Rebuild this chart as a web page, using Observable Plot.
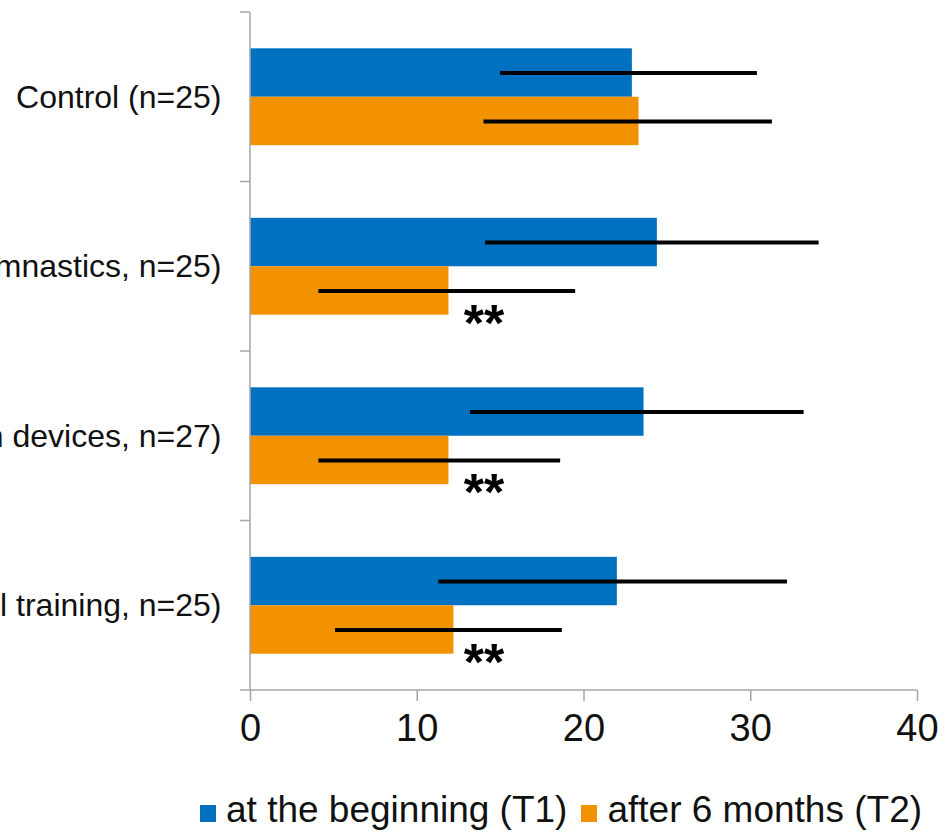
<!DOCTYPE html>
<html>
<head>
<meta charset="utf-8">
<script src="https://cdn.jsdelivr.net/npm/d3@7"></script>
<script src="https://cdn.jsdelivr.net/npm/@observablehq/plot@0.6"></script>
<style>
  html, body { margin: 0; padding: 0; background: #fff; }
  body { font-family: "Liberation Sans", Arial, sans-serif; width: 952px; height: 833px; position: relative; overflow: hidden; }
  #chart svg { overflow: hidden; }
  #chart [aria-label^="fy-axis"], #chart [aria-label^="fy-axis"] text { font-size: 32px; fill: #111; }
  #chart [aria-label^="x-axis"] text, #chart [aria-label="x-axis tick label"] { font-size: 38px; fill: #111; }
  #chart .tick line, #chart [aria-label="x-axis tick"], #chart [aria-label="x-axis tick"] path { stroke: #a6a6a6; stroke-width: 1.5px; }
  #chart [aria-label="x-axis"] .domain { display: none; }
  #legend { position: absolute; left: 200px; top: 791px; font-size: 37px; line-height: 1; white-space: nowrap; color: #111; }
  #legend .item { display: inline-block; margin-right: 14px; }
  #legend .sw { display: inline-block; width: 16px; height: 17px; margin-right: 10px; vertical-align: baseline; }
</style>
</head>
<body>
<div id="chart"></div>
<div id="legend"></div>
<script>
// ---- Data ----
const categories = ["Control (n=25)", "mnastics, n=25)", "n devices, n=27)", "l training, n=25)"];
const series = ["T1", "T2"];
const seriesLabels = ["at the beginning (T1)", "after 6 months (T2)"];
const meanT1 = [22.9, 24.4, 23.6, 22.0];
const meanT2 = [23.3, 11.9, 11.9, 12.2];
const lowT1 = [15.0, 14.1, 13.2, 11.3];
const highT1 = [30.4, 34.1, 33.2, 32.2];
const lowT2 = [14.0, 4.1, 4.1, 5.1];
const highT2 = [31.3, 19.5, 18.6, 18.7];
const significantT2 = [false, true, true, true];
const sigLabel = "**";
const sigMarkX = 14;
const xDomain = [0, 40];
const xTicks = [0, 10, 20, 30, 40];
const colors = ["#0070c0", "#f39200"];

// ---- Table built from the arrays ----
const rows = [];
categories.forEach((g, i) => {
  rows.push({group: g, series: "T1", mean: meanT1[i], lo: lowT1[i], hi: highT1[i], sig: false});
  rows.push({group: g, series: "T2", mean: meanT2[i], lo: lowT2[i], hi: highT2[i], sig: significantT2[i]});
});

const W = 952, H = 770, mT = 12, mB = 80, mL = 250, mR = 35;

const chart = Plot.plot({
  width: W, height: H,
  marginLeft: mL, marginRight: mR, marginTop: mT, marginBottom: mB,
  style: {fontFamily: '"Liberation Sans", Arial, sans-serif', fontSize: "37px", color: "#111", background: "transparent", overflow: "hidden"},
  facet: {data: rows, y: "group"},
  fy: {domain: categories, padding: 0, round: false, axis: "left", tickSize: 0, tickPadding: 29, label: null},
  y: {domain: series, paddingInner: 0, paddingOuter: 0.75, round: false, axis: null},
  x: {domain: xDomain, ticks: xTicks, tickSize: 11, tickPadding: 13, label: null},
  color: {domain: series, range: colors},
  marks: [
    Plot.barX(rows, {x: "mean", y: "series", fill: "series"}),
    Plot.ruleY(rows, {y: "series", x1: "lo", x2: "hi", stroke: "#000", strokeWidth: 4}),
    Plot.text(rows, {filter: d => d.sig, x: () => sigMarkX, y: "series", text: () => sigLabel,
      dy: 33, fontSize: 52, fontWeight: "bold", fill: "#000", fontFamily: '"Liberation Sans", Arial, sans-serif'})
  ]
});
document.getElementById("chart").append(chart);

// ---- Axis frame lines (from the plot's own scales) ----
const svgSel = d3.select(chart);
const sx = chart.scale("x");
const xA = sx.apply(xDomain[0]), xB = sx.apply(xDomain[1]);
const yTop = mT, yBottom = H - mB;
let bounds;
const sfy = chart.scale("fy");
if (sfy && sfy.apply) {
  bounds = categories.map(c => sfy.apply(c));
  bounds.push(sfy.apply(categories[categories.length - 1]) + sfy.bandwidth);
} else {
  bounds = d3.range(categories.length + 1).map(i => yTop + i * (yBottom - yTop) / categories.length);
}
const ax = svgSel.append("g").attr("stroke", "#a6a6a6").attr("stroke-width", 1.5).attr("fill", "none");
ax.append("line").attr("x1", xA).attr("x2", xA).attr("y1", yTop).attr("y2", yBottom);
ax.append("line").attr("x1", xA).attr("x2", xB).attr("y1", yBottom).attr("y2", yBottom);
bounds.forEach(b => ax.append("line").attr("x1", xA - 10).attr("x2", xA).attr("y1", b).attr("y2", b));

// ---- Legend ----
const legend = d3.select("#legend");
seriesLabels.forEach((lab, i) => {
  const it = legend.append("span").attr("class", "item");
  it.append("span").attr("class", "sw").style("background", colors[i]);
  it.append("span").text(lab);
});
</script>
</body>
</html>
